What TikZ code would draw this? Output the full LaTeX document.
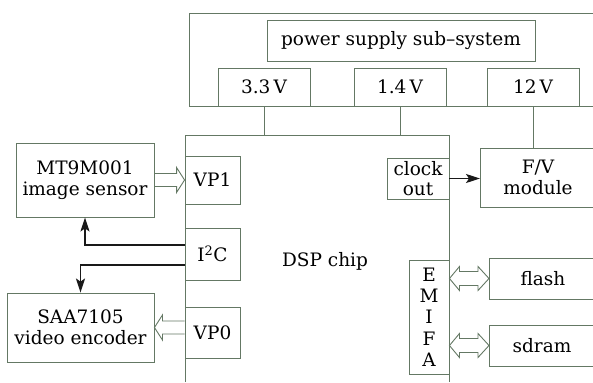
\documentclass[tikz,border=0pt]{standalone}
\usepackage{fontspec}
\setmainfont{DejaVu Serif}
\usetikzlibrary{calc,arrows.meta}
\definecolor{boxc}{RGB}{100,120,100}
\definecolor{arr}{RGB}{25,25,25}
\newcommand\hollowarrow[3]{%
  \draw[hol] ($(#1 |- #2)+(0,-6.5)$) -- ($(#2)+(-8*#3,-6.5)$) -- ($(#2)+(-8*#3,-12.5)$) -- (#2)
    -- ($(#2)+(-8*#3,12.5)$) -- ($(#2)+(-8*#3,6.5)$) -- ($(#1 |- #2)+(0,6.5)$);}
\newcommand\dblhollow[2]{%
  \draw[hol] (#1) -- ($(#1)+(10,-12)$) -- ($(#1)+(10,-7)$) -- ($(#2)+(-11,-7)$) -- ($(#2)+(-11,-12)$)
    -- (#2) -- ($(#2)+(-11,12)$) -- ($(#2)+(-11,7)$) -- ($(#1)+(10,7)$) -- ($(#1)+(10,12)$) -- cycle;}
\begin{document}
\begin{tikzpicture}[x=1pt,y=-1pt,
  every node/.style={font=\fontsize{18.5}{21}\selectfont},
  box/.style={draw=boxc, line width=0.9pt, inner sep=0pt, align=center},
  txt/.style={inner sep=0pt, align=center},
  edge/.style={draw=boxc, line width=0.9pt},
  hol/.style={draw=boxc, line width=0.9pt, line join=miter},
  blk/.style={draw=arr, line width=1.6pt, -{Stealth[length=14pt,width=9pt,inset=3pt]}},
]
\useasboundingbox (0,0) rectangle (593,382);
\fill[white] (0,0) rectangle (593,382);

% power supply subsystem
\draw[edge] (593,13) -- (189,13) -- (189,106) -- (593,106);
\node[box, minimum width=268, minimum height=41] (psu) at (401,40.5) {power supply sub--system};
\node[box, minimum width=92, minimum height=38] (v33) at (264,87) {3.3\,V};
\node[box, minimum width=92, minimum height=38] (v14) at (400,87) {1.4\,V};
\node[box, minimum width=92, minimum height=38] (v12) at (533,87) {12\,V};

% DSP chip
\coordinate (dspTL) at (185,135);
\coordinate (dspTR) at (449,135);
\draw[edge] (185,382) -- (dspTL) -- (dspTR) -- (449,382);
\node[txt] (dsp) at (325,261) {DSP chip};

\node[box, minimum width=55, minimum height=48] (vp1) at (212.5,180) {VP1};
\node[box, minimum width=55, minimum height=52] (i2c) at (212.5,254) {I\textsuperscript{2}C};
\node[box, minimum width=55, minimum height=51] (vp0) at (212.5,332.5) {VP0};
\node[box, minimum width=62, minimum height=41, font=\fontsize{18.5}{19.5}\selectfont] (clk) at (418,178.5) {clock\\out};
\node[box, minimum width=40, minimum height=114, font=\fontsize{18.5}{21.3}\selectfont] (emifa) at (429,317) {E\\M\\I\\F\\A};

% left devices
\node[box, minimum width=138, minimum height=74] (sensor) at (85,180) {MT9M001\\image sensor};
\node[box, minimum width=147, minimum height=69] (encoder) at (80.5,327.5) {SAA7105\\video encoder};

% right devices (open on the right)
\draw[edge] (593,148) -- (480,148) -- (480,207) -- (593,207);
\coordinate (fvT) at (533,148);
\coordinate (fvL) at (480,178.5);
\node[txt] (fv) at (538,177.5) {F/V\\module};
\draw[edge] (593,258) -- (489,258) -- (489,299) -- (593,299);
\coordinate (flashL) at (489,278.5);
\node[txt] (flash) at (543,278.5) {flash};
\draw[edge] (593,325) -- (489,325) -- (489,366) -- (593,366);
\coordinate (sdramL) at (489,345.5);
\node[txt] (sdram) at (542,345.5) {sdram};

% power connectors
\draw[edge] (v33.south) -- (v33.south |- dspTL);
\draw[edge] (v14.south) -- (v14.south |- dspTL);
\draw[edge] (v12.south) -- (v12.south |- fvT);

% hollow data arrows
\hollowarrow{sensor.east}{vp1.west}{1}
\hollowarrow{vp0.west}{encoder.east}{-1}
\dblhollow{emifa.east |- flashL}{flashL}
\dblhollow{emifa.east |- sdramL}{sdramL}

% control arrows
\draw[blk] ($(i2c.west)+(0,-9)$) -| (sensor.south);
\draw[blk] ($(i2c.west)+(0,11)$) -| (encoder.north);
\draw[blk] (clk.east) -- (clk.east -| fvL);
\end{tikzpicture}
\end{document}
